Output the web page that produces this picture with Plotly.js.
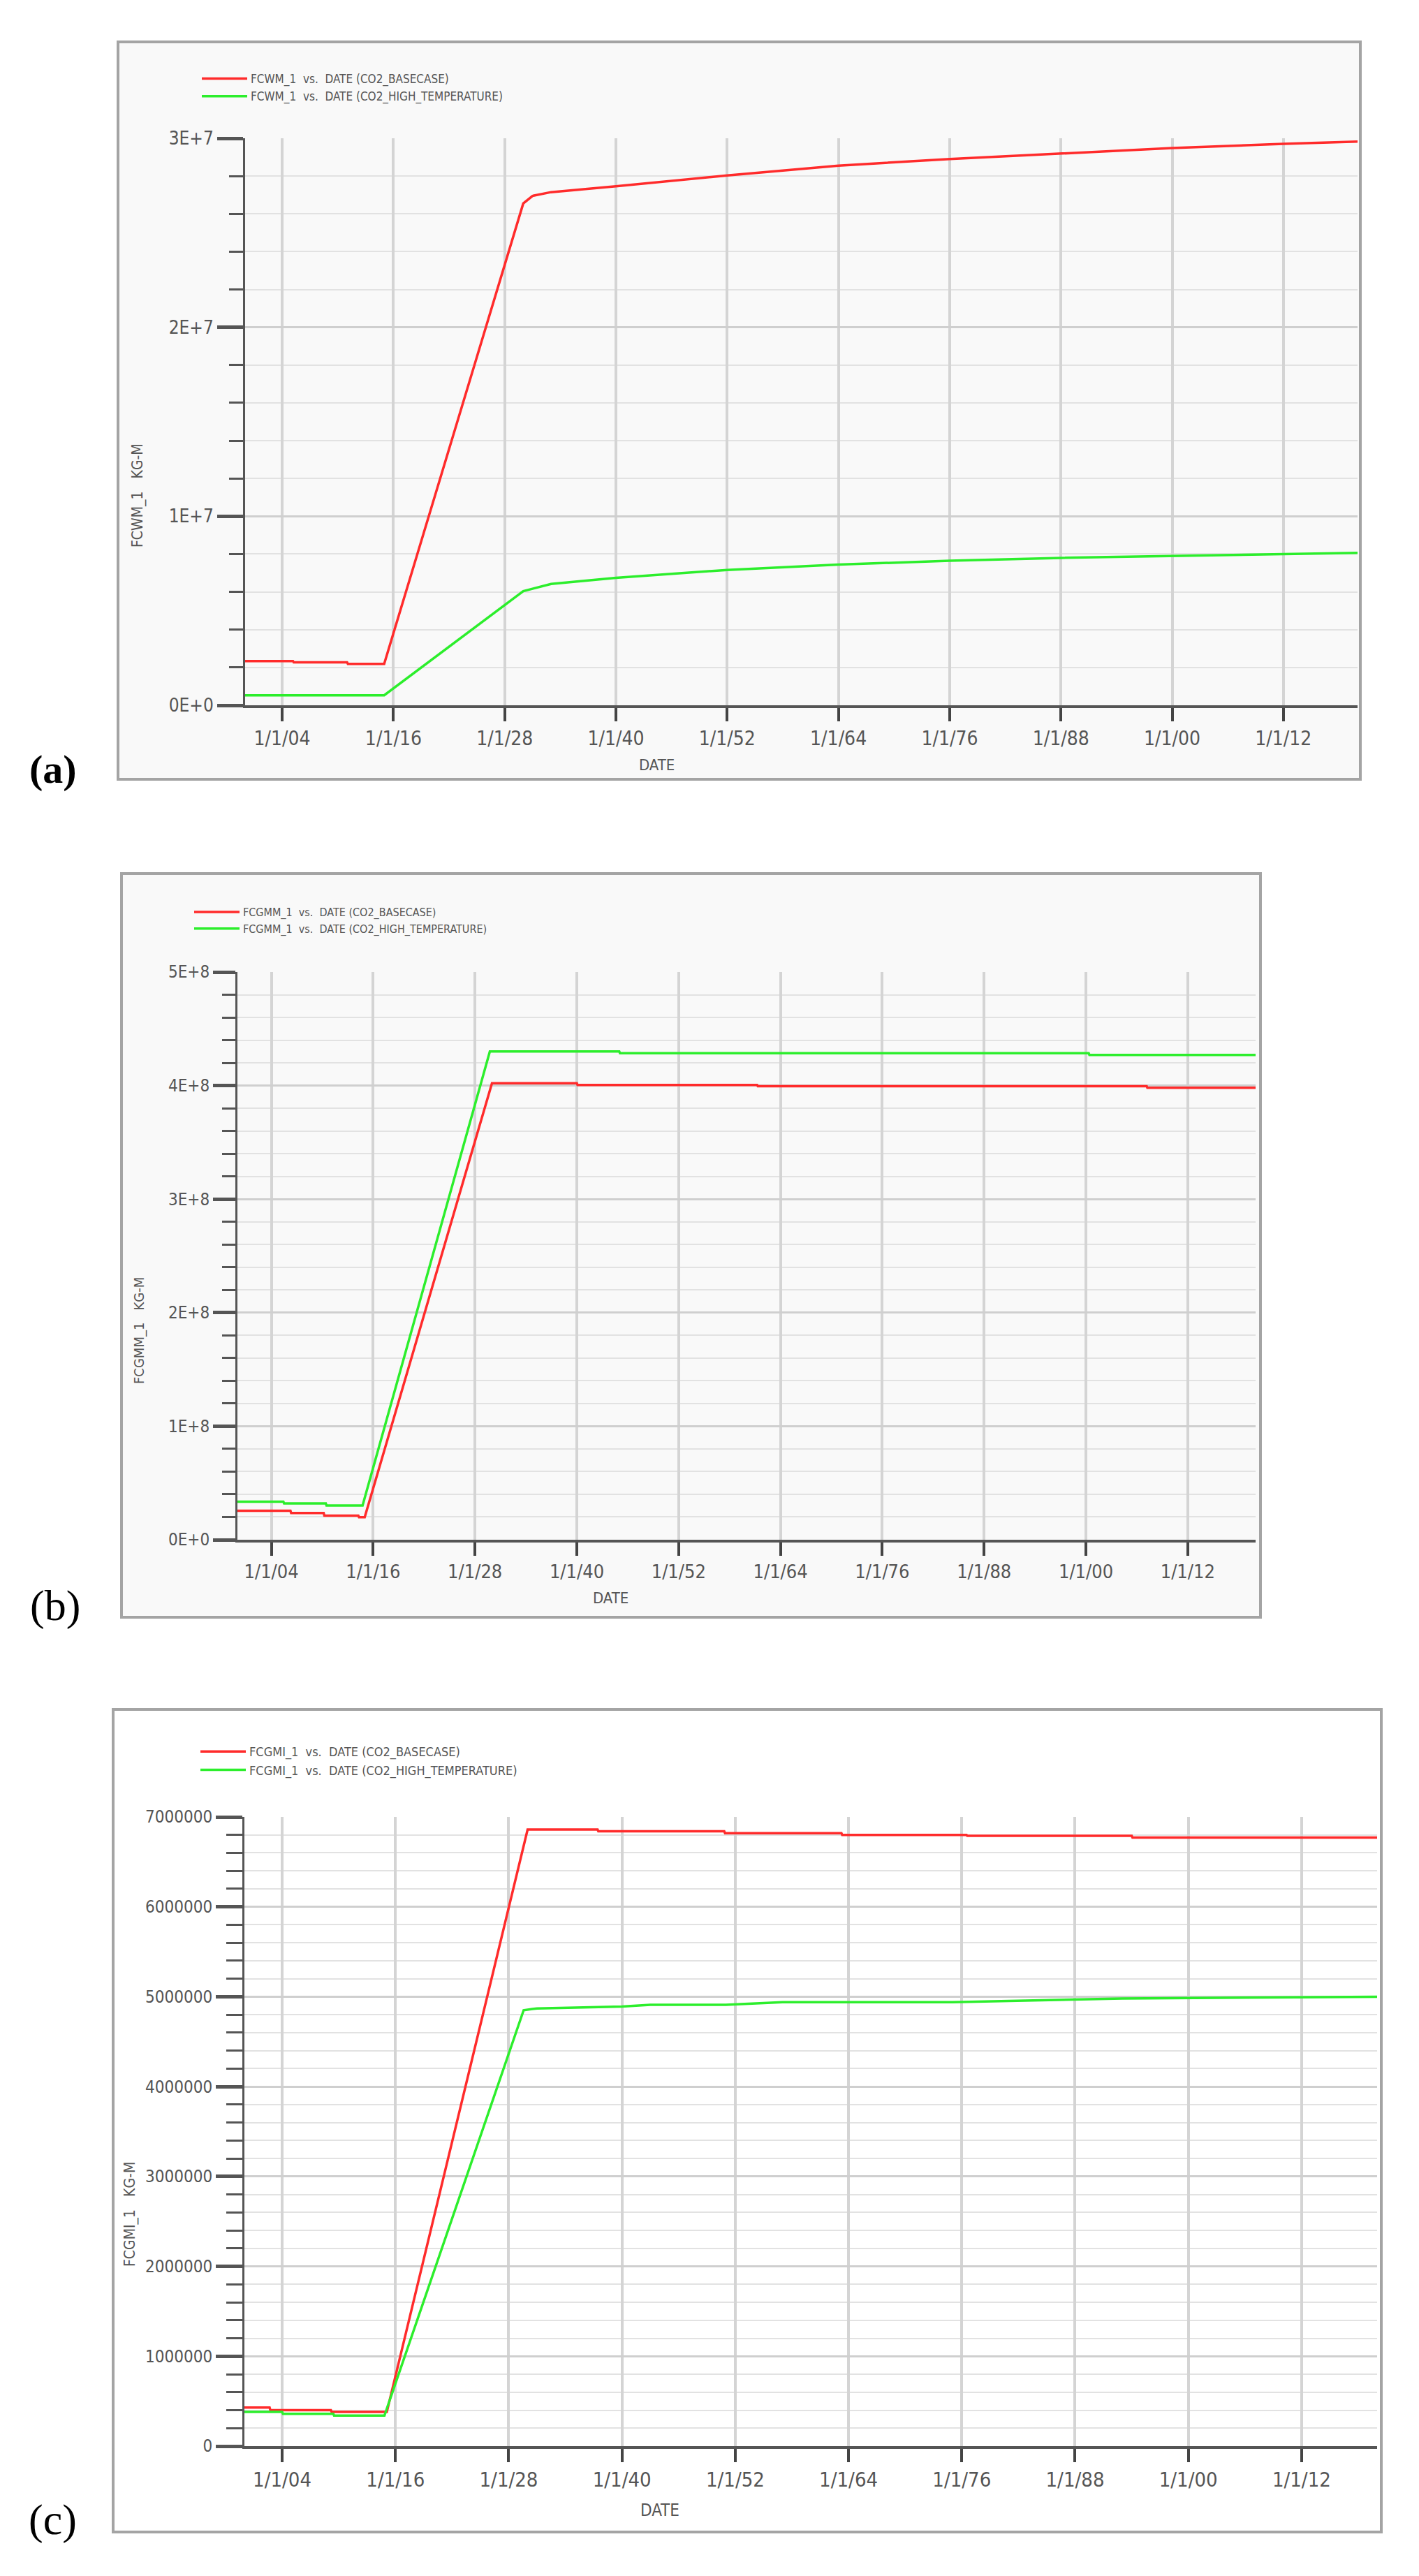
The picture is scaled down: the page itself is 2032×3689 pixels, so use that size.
<!DOCTYPE html>
<html>
<head>
<meta charset="utf-8">
<script src="https://cdn.plot.ly/plotly-3.0.1.min.js"></script>
<style>
body{margin:0;background:#fff;}
#chart{width:2032px;height:3689px;}
</style>
</head>
<body>
<div id="chart"></div>
<script>
// Page size, everything below is placed in pixels and turned into paper fractions.
var W = 2032, H = 3689;
function px(x){return x / W;}
function py(y){return 1 - y / H;}

// x axis ticks, shared by the three panels
var tickDates = ['2004-01-01','2016-01-01','2028-01-01','2040-01-01','2052-01-01','2064-01-01','2076-01-01','2088-01-01','2100-01-01','2112-01-01'];
var dateRange = ['2000-01-01','2120-01-01'];

// (a) FCWM_1
var wmBaseDates = ['2000-01-01','2005-03-01','2005-04-01','2011-01-01','2011-02-01','2015-01-01','2030-01-01','2031-01-01','2033-01-01','2040-01-01','2052-01-01','2064-01-01','2076-01-01','2088-01-01','2100-01-01','2112-01-01','2120-01-01'];
var wmBaseVals = [2.34e6,2.34e6,2.27e6,2.27e6,2.19e6,2.19e6,26.55e6,26.95e6,27.15e6,27.46e6,28.03e6,28.55e6,28.9e6,29.2e6,29.48e6,29.7e6,29.82e6];
var wmHighDates = ['2000-01-01','2015-01-01','2030-01-01','2033-01-01','2040-01-01','2052-01-01','2064-01-01','2076-01-01','2088-01-01','2100-01-01','2112-01-01','2120-01-01'];
var wmHighVals = [0.53e6,0.53e6,6.04e6,6.42e6,6.74e6,7.16e6,7.44e6,7.65e6,7.8e6,7.9e6,8.01e6,8.06e6];
var wmTickVals = [0,1e7,2e7,3e7];
var wmTickText = ['0E+0','1E+7','2E+7','3E+7'];

// (b) FCGMM_1
var gmmBaseDates = ['2000-01-01','2006-04-01','2006-05-01','2010-03-01','2010-04-01','2014-04-01','2014-05-01','2015-01-01','2030-01-01','2040-01-01','2040-02-01','2061-04-01','2061-05-01','2107-03-01','2107-04-01','2120-01-01'];
var gmmBaseVals = [2.55e7,2.55e7,2.35e7,2.35e7,2.12e7,2.12e7,1.98e7,1.98e7,4.02e8,4.02e8,4.005e8,4.005e8,3.995e8,3.995e8,3.98e8,3.98e8];
var gmmHighDates = ['2000-01-01','2005-06-01','2005-07-01','2010-06-01','2010-07-01','2014-10-01','2029-10-01','2045-01-01','2045-02-01','2100-05-01','2100-06-01','2120-01-01'];
var gmmHighVals = [3.35e7,3.35e7,3.2e7,3.2e7,3.02e7,3.02e7,4.30e8,4.30e8,4.285e8,4.285e8,4.27e8,4.27e8];
var gmmTickVals = [0,1e8,2e8,3e8,4e8,5e8];
var gmmTickText = ['0E+0','1E+8','2E+8','3E+8','4E+8','5E+8'];

// (c) FCGMI_1
var gmiBaseDates = ['2000-01-01','2002-09-01','2002-10-01','2009-03-01','2009-04-01','2015-02-01','2030-01-01','2037-06-01','2037-07-01','2050-11-01','2050-12-01','2063-04-01','2063-05-01','2076-07-01','2076-08-01','2094-01-01','2094-02-01','2120-01-01'];
var gmiBaseVals = [4.3e5,4.3e5,4.0e5,4.0e5,3.8e5,3.8e5,6.86e6,6.86e6,6.84e6,6.84e6,6.82e6,6.82e6,6.80e6,6.80e6,6.79e6,6.79e6,6.77e6,6.77e6];
var gmiHighDates = ['2000-01-01','2004-01-01','2004-02-01','2009-06-01','2009-07-01','2014-11-01','2029-08-01','2031-01-01','2040-01-01','2043-01-01','2051-01-01','2057-01-01','2075-01-01','2093-01-01','2120-01-01'];
var gmiHighVals = [3.8e5,3.8e5,3.6e5,3.6e5,3.4e5,3.4e5,4.85e6,4.87e6,4.89e6,4.91e6,4.91e6,4.94e6,4.94e6,4.98e6,5.0e6];
var gmiTickVals = [0,1e6,2e6,3e6,4e6,5e6,6e6,7e6];
var gmiTickText = ['0','1000000','2000000','3000000','4000000','5000000','6000000','7000000'];

var RED = '#ff2b2b', GREEN = '#2cee2c';
var FONT = '"Liberation Sans Narrow", "DejaVu Sans Condensed", "Liberation Sans", Arial, sans-serif';
var SERIF = '"Liberation Serif", "DejaVu Serif", serif';

function series(x, y, name, color, xa, ya, lg){
return {x:x, y:y, name:name, type:'scatter', mode:'lines',
line:{color:color, width:3.5}, xaxis:xa, yaxis:ya, legend:lg, hoverinfo:'skip'};
}

var data = [
series(wmBaseDates, wmBaseVals, 'FCWM_1  vs.  DATE (CO2_BASECASE)', RED, 'x', 'y', 'legend'),
series(wmHighDates, wmHighVals, 'FCWM_1  vs.  DATE (CO2_HIGH_TEMPERATURE)', GREEN, 'x', 'y', 'legend'),
series(gmmBaseDates, gmmBaseVals, 'FCGMM_1  vs.  DATE (CO2_BASECASE)', RED, 'x2', 'y2', 'legend2'),
series(gmmHighDates, gmmHighVals, 'FCGMM_1  vs.  DATE (CO2_HIGH_TEMPERATURE)', GREEN, 'x2', 'y2', 'legend2'),
series(gmiBaseDates, gmiBaseVals, 'FCGMI_1  vs.  DATE (CO2_BASECASE)', RED, 'x3', 'y3', 'legend3'),
series(gmiHighDates, gmiHighVals, 'FCGMI_1  vs.  DATE (CO2_HIGH_TEMPERATURE)', GREEN, 'x3', 'y3', 'legend3')
];

// one date axis per panel
function dateAxis(left, right, anchor, fsize){
return {
type:'date', range:dateRange, domain:[px(left), px(right)], anchor:anchor,
tickmode:'array', tickvals:tickDates, tickformat:'%-m/%-d/%y',
ticks:'outside', ticklen:19, tickwidth:4, tickcolor:'#444',
showline:true, linecolor:'#555', linewidth:4,
showgrid:true, gridcolor:'#d4d4d4', gridwidth:4, zeroline:false,
tickfont:{family:FONT, size:fsize, color:'#555'}, fixedrange:true
};
}
// value axis with minor grid
function valueAxis(top, bottom, anchor, max, tv, tt, minorStep, fsize, majorLen, minorLen){
return {
range:[0, max], domain:[py(bottom), py(top)], anchor:anchor,
tickmode:'array', tickvals:tv, ticktext:tt,
ticks:'outside', ticklen:majorLen, tickwidth:5, tickcolor:'#555',
showline:true, linecolor:'#555', linewidth:3,
showgrid:true, gridcolor:'#cfcfcf', gridwidth:3, zeroline:false,
minor:{tickmode:'linear', tick0:0, dtick:minorStep, ticks:'outside', ticklen:minorLen, tickwidth:3, tickcolor:'#555', showgrid:true, gridcolor:'#e2e2e2', gridwidth:2},
tickfont:{family:FONT, size:fsize, color:'#555'}, fixedrange:true
};
}

function frame(x0, y0, x1, y1, fill){
return {type:'rect', xref:'paper', yref:'paper', x0:px(x0), x1:px(x1), y0:py(y1), y1:py(y0),
fillcolor:fill, line:{color:'#a4a4a4', width:4}, layer:'below'};
}
function label(text, x, y, size, angle, family, color){
return {text:text, x:px(x), y:py(y), xref:'paper', yref:'paper', showarrow:false,
xanchor:'center', yanchor:'middle', textangle:angle || 0,
font:{family:family || FONT, size:size, color:color || '#555'}};
}
function legendAt(x, y, size){
return {x:px(x), y:py(y), xanchor:'left', yanchor:'top', bgcolor:'rgba(0,0,0,0)',
borderwidth:0, tracegroupgap:0, itemwidth:65, font:{family:FONT, size:size, color:'#555'}};
}

var layout = {
width:W, height:H, margin:{l:0, r:0, t:0, b:0},
paper_bgcolor:'#ffffff', plot_bgcolor:'rgba(0,0,0,0)', showlegend:true,
xaxis:dateAxis(351, 1944, 'y', 28),
yaxis:valueAxis(198, 1010, 'x', 3e7, wmTickVals, wmTickText, 2e6, 26, 37, 20),
xaxis2:dateAxis(340, 1798, 'y2', 27),
yaxis2:valueAxis(1392, 2205, 'x2', 5e8, gmmTickVals, gmmTickText, 2e7, 24, 32, 19),
xaxis3:dateAxis(350, 1972, 'y3', 29),
yaxis3:valueAxis(2602, 3503, 'x3', 7e6, gmiTickVals, gmiTickText, 2e5, 24, 38, 23),
legend:legendAt(284, 95, 17),
legend2:legendAt(273, 1289, 16),
legend3:legendAt(282, 2490, 18),
shapes:[
frame(169, 60, 1948, 1116, '#f9f9f9'),
frame(174, 1251, 1805, 2316, '#f9f9f9'),
frame(162, 2448, 1978, 3626, '#ffffff')
],
annotations:[
label('<b>(a)</b>', 76, 1101, 58, 0, SERIF, '#000'),
label('(b)', 79, 2299, 62, 0, SERIF, '#000'),
label('(c)', 75, 3608, 62, 0, SERIF, '#000'),
label('FCWM_1   KG-M', 197, 710, 21, -90),
label('FCGMM_1   KG-M', 199, 1906, 20, -90),
label('FCGMI_1   KG-M', 186, 3171, 21, -90),
label('DATE', 940, 1095, 22),
label('DATE', 874, 2288, 22),
label('DATE', 945, 3595, 24)
]
};

Plotly.newPlot('chart', data, layout, {staticPlot:true, displayModeBar:false});
</script>
</body>
</html>
